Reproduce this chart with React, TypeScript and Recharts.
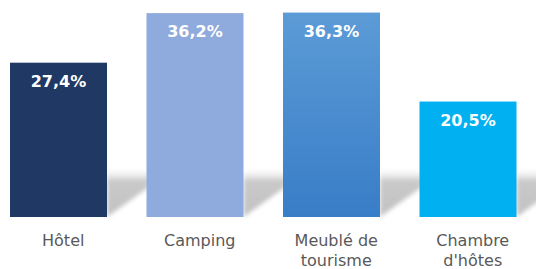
import { Bar, BarChart, Cell, LabelList, XAxis, YAxis } from 'recharts'

// Répartition par type d'hébergement (%)
const categories = ['Hôtel', 'Camping', 'Meublé de tourisme', "Chambre d'hôtes"]
const tickLines = [['Hôtel'], ['Camping'], ['Meublé de', 'tourisme'], ['Chambre', "d'hôtes"]]
const shares = [27.4, 36.2, 36.3, 20.5]
const barFills = ['#203864', '#8FAADC', 'url(#meubleGrad)', '#00B0F0']

const data = categories.map((name, i) => ({ name, value: shares[i] }))

const fmt = (v: number) => `${v.toFixed(1).replace('.', ',')}%`

function BarWithShadow(props: any) {
  const { x, y, width, height, fill } = props
  const x2 = x + width
  const bottom = y + height
  const gap = 42
  const top = bottom - 50
  return (
    <g>
      <polygon
        points={`${x2},${bottom} ${x2},${top} ${x2 + gap},${top} ${x2 + gap},${bottom - 30}`}
        fill="url(#shadowGrad)"
        filter="url(#shadowBlur)"
      />
      <rect x={x} y={y} width={width} height={height} fill={fill} />
    </g>
  )
}

function CategoryTick(props: any) {
  const { x, y, payload } = props
  const lines = tickLines[payload.index] ?? [payload.value]
  return (
    <text x={x + 5} y={y} textAnchor="middle" fill="#595959" fontSize={16} fontFamily="DejaVu Sans">
      {lines.map((line, i) => (
        <tspan key={line} x={x + 5} dy={i === 0 ? 29 : 20}>
          {line}
        </tspan>
      ))}
    </text>
  )
}

function ValueLabel(props: any) {
  const { x, y, width, value } = props
  return (
    <text
      x={x + width / 2}
      y={y + 24}
      textAnchor="middle"
      fill="#FFFFFF"
      fontSize={16}
      fontWeight="bold"
      fontFamily="DejaVu Sans"
    >
      {fmt(value)}
    </text>
  )
}

export default function App() {
  return (
    <div style={{ position: 'absolute', left: -10, top: 0, width: 546, height: 269, background: '#fff' }}>
      <BarChart width={546} height={269} data={data} margin={{ top: 3, right: 0, bottom: 0, left: 0 }}>
        <defs>
          <linearGradient id="meubleGrad" x1="0" y1="0" x2="0" y2="1">
            <stop offset="0%" stopColor="#5C9BD6" />
            <stop offset="100%" stopColor="#387DC7" />
          </linearGradient>
          <linearGradient id="shadowGrad" x1="0" y1="0" x2="0" y2="1">
            <stop offset="0%" stopColor="#FFFFFF" stopOpacity={0} />
            <stop offset="28%" stopColor="#C9C9C9" />
            <stop offset="100%" stopColor="#C2C2C2" />
          </linearGradient>
          <filter id="shadowBlur" x="-20%" y="-20%" width="140%" height="140%">
            <feGaussianBlur stdDeviation="2.2" />
          </filter>
        </defs>
        <XAxis
          dataKey="name"
          axisLine={false}
          tickLine={false}
          tickSize={0}
          tickMargin={0}
          height={52}
          interval={0}
          tick={<CategoryTick />}
        />
        <YAxis hide domain={[0, 38]} />
        <Bar dataKey="value" barSize={97} shape={<BarWithShadow />} isAnimationActive={false}>
          {data.map((entry, index) => (
            <Cell key={`bar-${entry.name}`} fill={barFills[index]} />
          ))}
          <LabelList dataKey="value" content={<ValueLabel />} />
        </Bar>
      </BarChart>
    </div>
  )
}
